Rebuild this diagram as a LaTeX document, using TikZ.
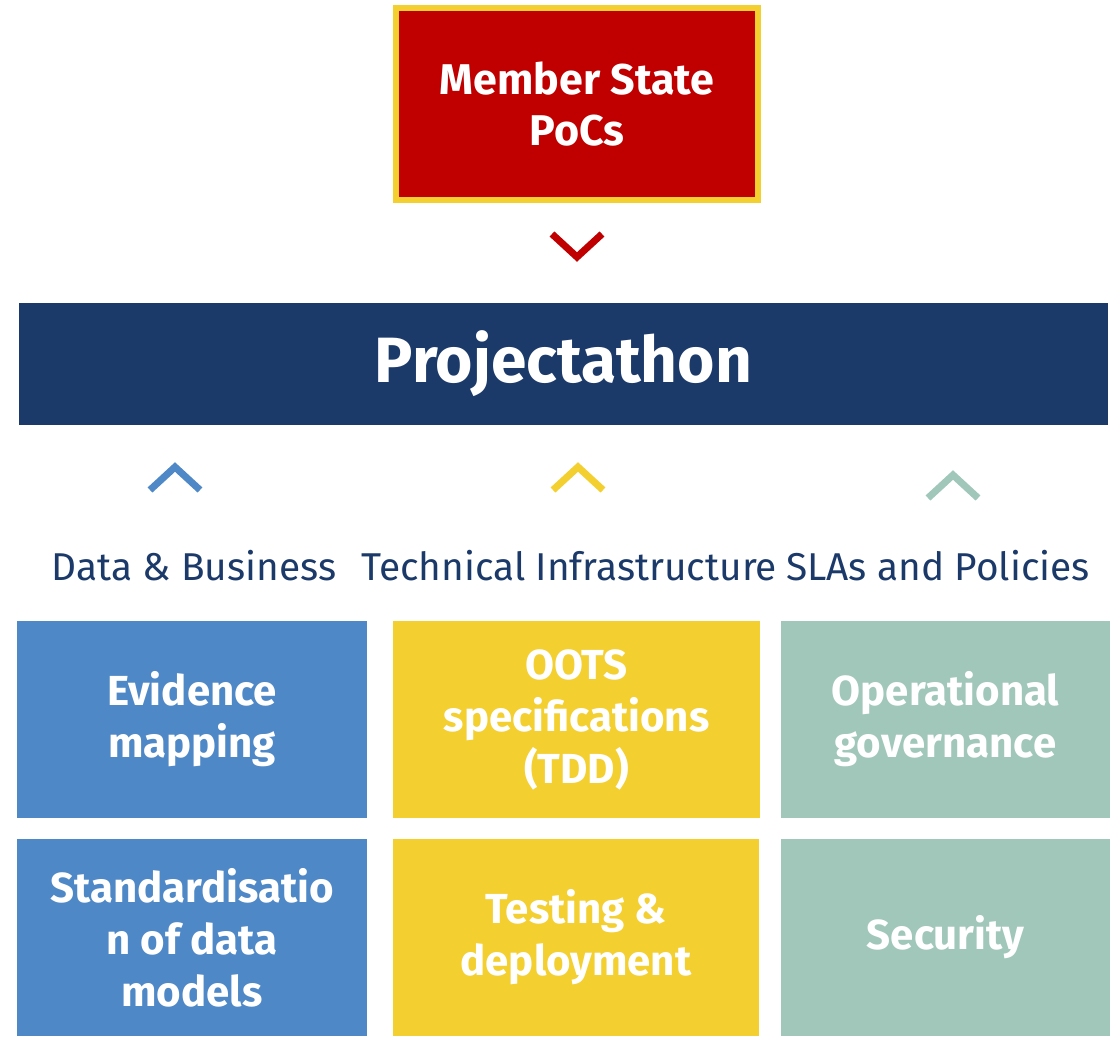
\documentclass[tikz,border=0pt]{standalone}
\usepackage{fontspec}
\setmainfont{Fira Sans}
\usetikzlibrary{positioning}
\definecolor{ecred}{HTML}{C00000}
\definecolor{ecyellow}{HTML}{F3CF30}
\definecolor{ecnavy}{HTML}{1B3A69}
\definecolor{ecblue}{HTML}{4F88C6}
\definecolor{ecgreen}{HTML}{A0C7BA}
\begin{document}
\begin{tikzpicture}[x=1pt,y=-1pt,
	tile/.style={fill=#1, text=white, font=\bfseries\fontsize{42}{52}\selectfont,
		align=center, minimum height=197, inner sep=0},
	lane/.style={text=ecnavy, font=\fontsize{38.8}{44}\selectfont, inner sep=0},
	chev/.style={draw=#1, line width=7, line join=miter, line cap=butt}
]
\useasboundingbox (0,0) rectangle (1113,1037);

\node[fill=ecred, draw=ecyellow, line width=6, minimum width=362, minimum height=192,
	text=white, font=\bfseries\fontsize{43}{51}\selectfont, align=center]
	(poc) at (577,104) {Member State\\PoCs};

\node[fill=ecnavy, minimum width=1089, minimum height=122, inner sep=0,
	text=white, font=\bfseries\fontsize{64}{66}\selectfont]
	(proj) at (563.5,364) {Projectathon};

\coordinate (down) at (577,246);
\draw[chev=ecred] (down) ++(-25,-12) -- ++(25,23) -- ++(25,-23);

\node[lane] (data) at (194,566) {Data \& Business};
\node[lane] (tech) at (569,566) {Technical Infrastructure};
\node[lane] (sla) at (938,566) {SLAs and Policies};

\coordinate (upa) at (175,478);
\coordinate (upb) at (578,478);
\coordinate (upc) at (953,486);
\foreach \p/\c in {upa/ecblue,upb/ecyellow,upc/ecgreen}{
	\draw[chev=\c] (\p) ++(-25,12) -- ++(25,-23) -- ++(25,23);
}

\foreach \n/\x/\y/\w/\c/\t in {
	evid/192/719.5/350/ecblue/{Evidence\\mapping},
	std/192/937.5/350/ecblue/{Standardisatio\\n of data\\models},
	oots/576.5/719.5/367/ecyellow/{OOTS\\specifications\\(TDD)},
	test/576/937.5/366/ecyellow/{Testing \&\\deployment},
	opgov/945.5/719.5/329/ecgreen/{Operational\\governance},
	sec/945.5/937.5/329/ecgreen/{Security}%
}{
	\node[tile=\c, minimum width=\w] (\n) at (\x,\y) {\t};
}
\end{tikzpicture}
\end{document}
